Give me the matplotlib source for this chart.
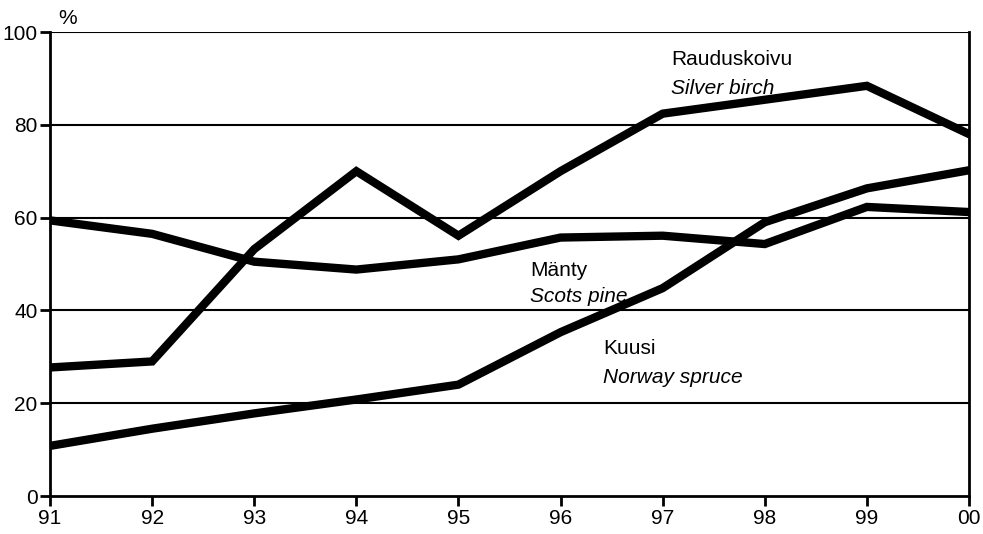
import matplotlib
matplotlib.use("Agg")
import matplotlib.pyplot as plt

plt.rcParams['font.family'] = ['Liberation Sans', 'DejaVu Sans']

years = ["91", "92", "93", "94", "95", "96", "97", "98", "99", "00"]
birch = [27.7, 29.0, 53.2, 70.0, 56.1, 70.0, 82.4, 85.4, 88.4, 78.0]
pine = [59.4, 56.5, 50.5, 48.8, 51.0, 55.7, 56.1, 54.3, 62.3, 61.2]
spruce = [10.8, 14.5, 17.8, 20.8, 24.0, 35.3, 44.8, 59.0, 66.3, 70.2]
yticks = [0, 20, 40, 60, 80, 100]

fig = plt.figure(figsize=(9.83, 5.34), dpi=100)
ax = fig.add_axes([50/983, 1-496/534, 919/983, 464/534])

x = list(range(len(years)))
for series in (birch, pine, spruce):
    ax.plot(x, series, color='black', linewidth=6.0, solid_capstyle='round',
            solid_joinstyle='miter', zorder=3)

for yv in yticks[1:]:
    ax.axhline(yv, color='black', linewidth=1.5, zorder=1)

ax.set_xlim(0, len(years) - 1)
ax.set_ylim(0, 100)
ax.set_xticks(x)
ax.set_xticklabels(years)
ax.set_yticks(yticks)
ax.tick_params(axis='both', direction='out', length=7, width=2, labelsize=15,
               color='black', pad=2)
for s in ('left', 'bottom', 'right'):
    ax.spines[s].set_linewidth(2)
ax.spines['top'].set_visible(False)

ax.text(0.0196, 1.03, "%", transform=ax.transAxes, ha='center', va='center', fontsize=15)

ax.text(6.08, 94.0, "Rauduskoivu", fontsize=15, ha='left', va='center')
ax.text(6.08, 87.9, "Silver birch", fontsize=15, ha='left', va='center', style='italic')
ax.text(4.70, 48.7, "Mänty", fontsize=15, ha='left', va='center')
ax.text(4.70, 42.9, "Scots pine", fontsize=15, ha='left', va='center', style='italic')
ax.text(5.42, 31.7, "Kuusi", fontsize=15, ha='left', va='center')
ax.text(5.42, 25.6, "Norway spruce", fontsize=15, ha='left', va='center', style='italic')

fig.savefig("out.png", dpi=100)
